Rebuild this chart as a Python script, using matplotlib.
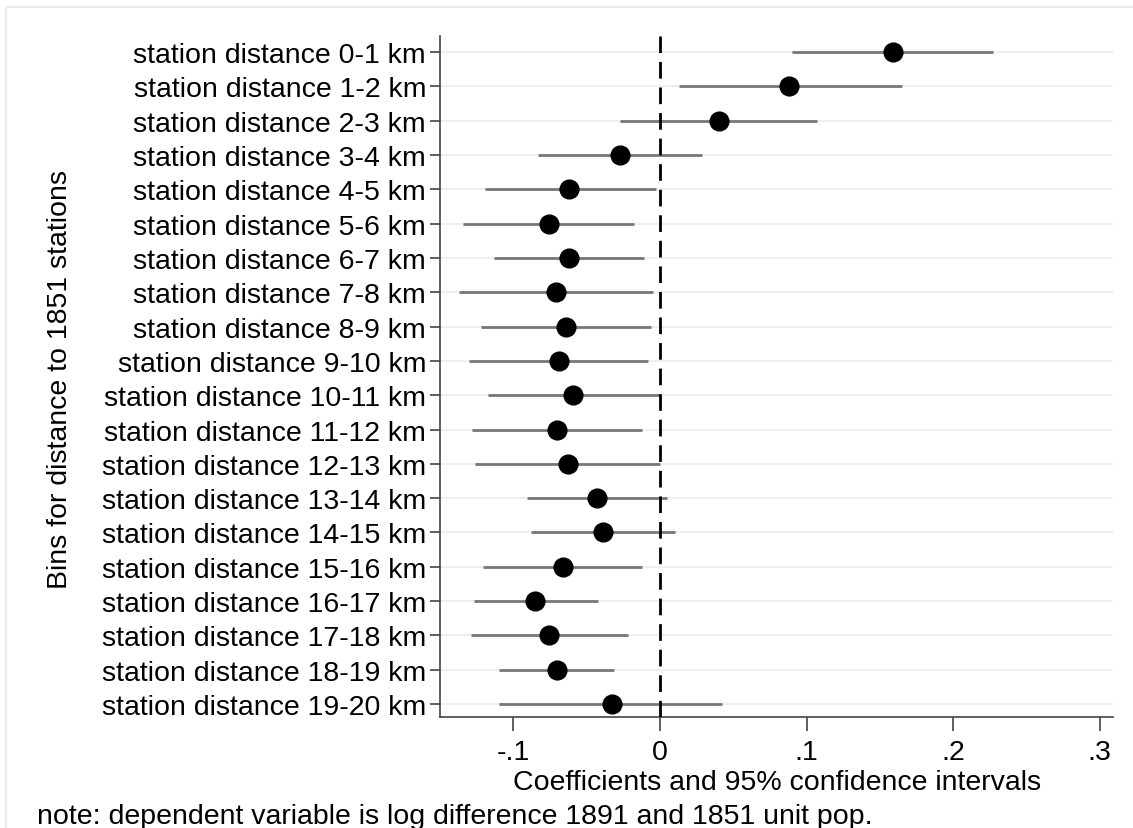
import numpy as np
import matplotlib.pyplot as plt
from matplotlib.patches import Rectangle

plt.rcParams['font.family'] = ['Liberation Sans', 'DejaVu Sans']

# bins, point estimates and 95% CI bounds
labels = ['station distance %d-%d km' % (i, i + 1) for i in range(20)]
coef = [0.159, 0.088, 0.040, -0.027, -0.062, -0.076, -0.062, -0.071, -0.064, -0.069,
        -0.059, -0.070, -0.063, -0.043, -0.039, -0.066, -0.085, -0.076, -0.070, -0.033]
ci_lo = [0.090, 0.013, -0.027, -0.083, -0.119, -0.134, -0.113, -0.137, -0.122, -0.130,
         -0.117, -0.128, -0.126, -0.091, -0.088, -0.121, -0.127, -0.129, -0.110, -0.110]
ci_hi = [0.227, 0.165, 0.107, 0.029, -0.003, -0.018, -0.011, -0.005, -0.006, -0.008,
         0.000, -0.012, 0.000, 0.005, 0.010, -0.012, -0.042, -0.022, -0.031, 0.042]
xticks = [-0.1, 0, 0.1, 0.2, 0.3]
xticklabels = ['-.1', '0', '.1', '.2', '.3']

W, H = 1133, 829
FS = 20.5
fig = plt.figure(figsize=(W / 100, H / 100), dpi=100)
# faint outer frame
fig.add_artist(Rectangle((6 / W, -0.1), 1.2, (H - 8) / H + 0.1, transform=fig.transFigure,
                         fill=False, edgecolor='#e6eef0', linewidth=1.5))
ax = fig.add_axes([440 / W, 1 - 718 / H, (1113 - 440) / W, (718 - 37) / H])

pos = np.arange(1, 21)
for p in pos:
    ax.axhline(p, color='#eaf1f3', linewidth=1.5, zorder=0)
ax.hlines(pos, ci_lo, ci_hi, color='#777777', linewidth=2.0, zorder=2)
ax.axvline(0, color='black', linewidth=2.0, dashes=(6, 3.2), zorder=3)
ax.plot(coef, pos, 'o', color='black', markersize=13.5, zorder=4)

ax.set_xlim(-0.150, 0.309)
ax.set_ylim(20.38, 0.53)
ax.set_yticks(pos)
ax.set_yticklabels(labels, fontsize=FS)
ax.set_xticks(xticks)
ax.set_xticklabels(xticklabels, fontsize=FS)
for s in ['top', 'right']:
    ax.spines[s].set_visible(False)
for s in ['left', 'bottom']:
    ax.spines[s].set_color('#444444')
    ax.spines[s].set_linewidth(1.2)
ax.tick_params(axis='y', length=7, width=1.2, color='#444444', pad=3)
ax.tick_params(axis='x', length=10, width=1.2, color='#444444', pad=6)

fig.text(777 / W, 1 - 783 / H, 'Coefficients and 95% confidence intervals',
         ha='center', va='center', fontsize=FS)
fig.text(60 / W, 1 - 380 / H, 'Bins for distance to 1851 stations', rotation=90,
         ha='center', va='center', fontsize=FS)
fig.text(37 / W, 1 - 817 / H, 'note: dependent variable is log difference 1891 and 1851 unit pop.',
         ha='left', va='center', fontsize=FS)

plt.savefig('out.png', dpi=100)
